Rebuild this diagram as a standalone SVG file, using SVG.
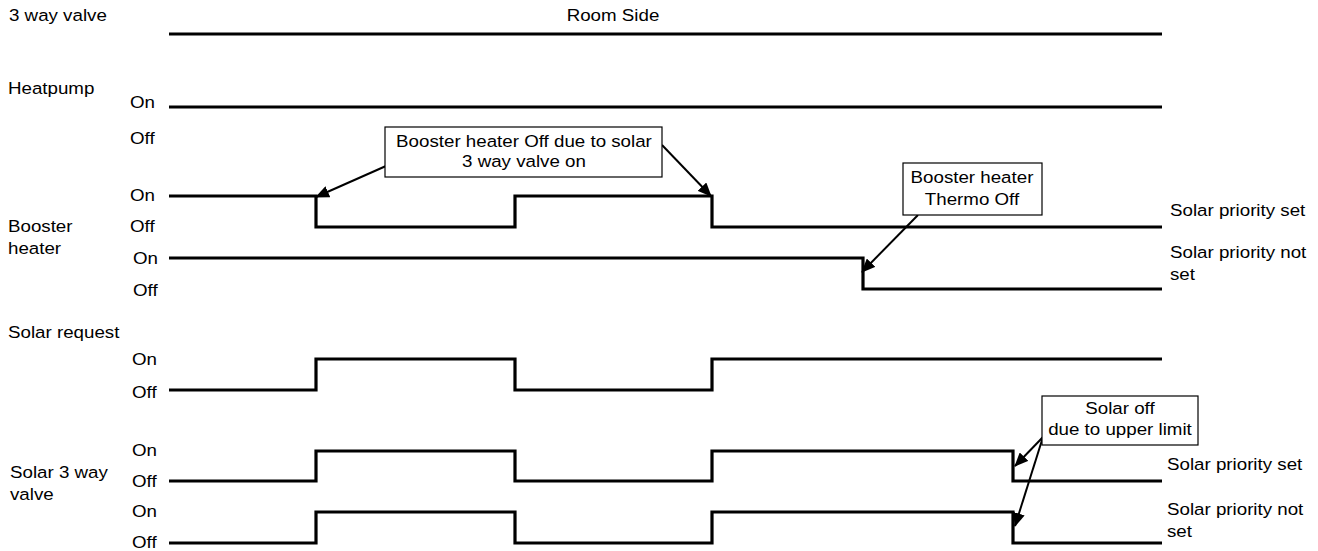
<svg xmlns="http://www.w3.org/2000/svg" width="1318" height="551" viewBox="0 0 1318 551">
<style>
text{font-family:"Liberation Sans",Arial,sans-serif;font-size:16.3px;fill:#000;transform-box:fill-box;transform-origin:0 50%;transform:scaleX(1.15)}
.c{text-anchor:middle;transform-origin:50% 50%}
.sig{fill:none;stroke:#000;stroke-width:3.2;stroke-linejoin:miter}
.box{fill:#fff;stroke:#000;stroke-width:1.2}
.arr{fill:none;stroke:#000;stroke-width:2;marker-end:url(#ah)}
</style>
<defs>
<marker id="ah" markerUnits="userSpaceOnUse" markerWidth="14" markerHeight="12" viewBox="0 0 14 12" refX="13" refY="6" orient="auto">
<path d="M0,0 L14,6 L0,12 Z" fill="#000"/>
</marker>
</defs>
<rect width="1318" height="551" fill="#fff"/>
<g id="labels">
<text x="9" y="21">3 way valve</text>
<text class="c" x="613" y="21">Room Side</text>
<text x="8" y="94">Heatpump</text>
<text x="130" y="108">On</text>
<text x="130" y="144">Off</text>
<text x="130" y="201">On</text>
<text x="130" y="232">Off</text>
<text x="8" y="232">Booster</text>
<text x="8" y="254">heater</text>
<text x="133" y="264">On</text>
<text x="133" y="296">Off</text>
<text x="8" y="338">Solar request</text>
<text x="132" y="365">On</text>
<text x="132" y="398">Off</text>
<text x="132" y="456">On</text>
<text x="132" y="487">Off</text>
<text x="10" y="478">Solar 3 way</text>
<text x="10" y="500">valve</text>
<text x="132" y="517">On</text>
<text x="132" y="548">Off</text>
<text x="1170" y="216">Solar priority set</text>
<text x="1170" y="258">Solar priority not</text>
<text x="1170" y="280">set</text>
<text x="1167" y="470">Solar priority set</text>
<text x="1167" y="515">Solar priority not</text>
<text x="1167" y="537">set</text>
</g>
<g id="signals">
<path id="valve3" class="sig" d="M169,34 H1162"/>
<path id="heatpump" class="sig" d="M169,107 H1162"/>
<path id="booster-set" class="sig" d="M169,196 H316 V227 H515 V196 H712 V227 H1162"/>
<path id="booster-notset" class="sig" d="M169,258 H863 V289 H1162"/>
<path id="solar-request" class="sig" d="M169,390 H316 V359 H515 V390 H712 V359 H1162"/>
<path id="solar3-set" class="sig" d="M169,481 H316 V451 H515 V481 H712 V451 H1013 V481 H1162"/>
<path id="solar3-notset" class="sig" d="M169,543 H316 V512 H515 V543 H712 V512 H1013 V543 H1162"/>
</g>
<g id="connectors">
<line class="arr" x1="386" y1="166" x2="316" y2="197"/>
<line class="arr" x1="662" y1="145" x2="711" y2="196"/>
<line class="arr" x1="918" y1="215" x2="862" y2="272"/>
<line class="arr" x1="1043" y1="437" x2="1015" y2="466"/>
<line class="arr" x1="1043" y1="437" x2="1015" y2="526"/>
</g>
<g id="callout1">
<rect class="box" x="385" y="127" width="277" height="50"/>
<text class="c" x="524" y="147">Booster heater Off due to solar</text>
<text class="c" x="524" y="167">3 way valve on</text>
</g>
<g id="callout2">
<rect class="box" x="903" y="163" width="139" height="52"/>
<text class="c" x="972" y="183">Booster heater</text>
<text class="c" x="972" y="205">Thermo Off</text>
</g>
<g id="callout3">
<rect class="box" x="1042" y="396" width="156" height="49"/>
<text class="c" x="1120" y="414">Solar off</text>
<text class="c" x="1120" y="435">due to upper limit</text>
</g>
</svg>
